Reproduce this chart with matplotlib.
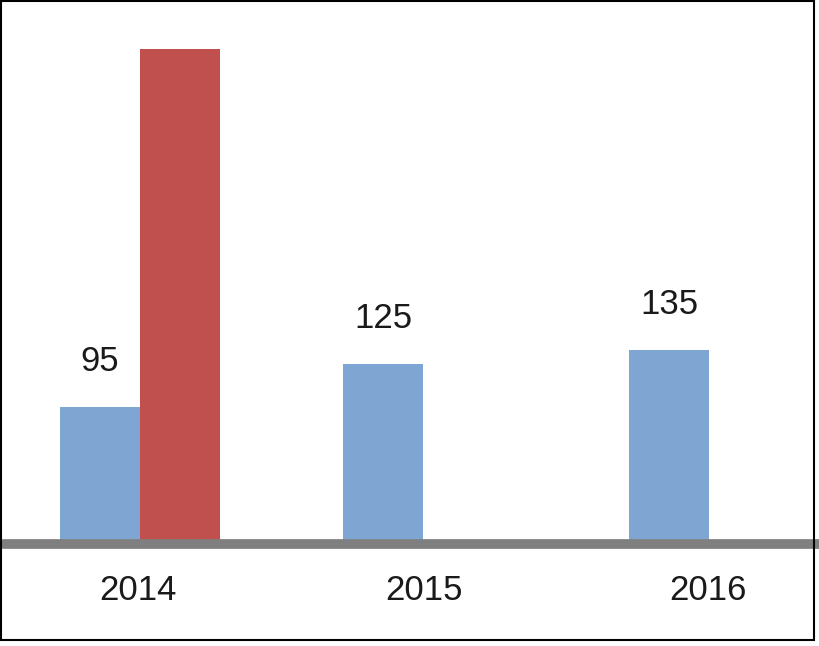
import matplotlib
matplotlib.use("Agg")
import matplotlib.pyplot as plt
from matplotlib.patches import Rectangle

plt.rcParams['font.family'] = ['Liberation Sans', 'DejaVu Sans']

years = ['2014', '2015', '2016']
blue_values = [95, 125, 135]
red_values = [344, None, None]

# layout (pixel units along x)
blue_x = [100, 383, 669]
red_x = [180]
year_label_x = [138, 424, 708]
bar_w = 80

fig = plt.figure(figsize=(8.2, 6.46), dpi=100)
ax = fig.add_axes([0, 102 / 646, 1, 544 / 646])
ax.set_xlim(0, 820)
ax.set_ylim(0, 544 / 1.44)
ax.axis('off')

ax.bar(blue_x, blue_values, width=bar_w, color='#7fa6d2')
ax.bar(red_x, [v for v in red_values if v is not None], width=bar_w, color='#c0504d')

for x, v in zip(blue_x, blue_values):
    ax.text(x, v + 20, str(v), ha='center', va='bottom', fontsize=25, color='#1a1a1a')

ax.axhline(0, color='#7f7f7f', lw=7, clip_on=False)

for x, y in zip(year_label_x, years):
    fig.text(x / 820, 1 - 590 / 646, y, ha='center', va='center', fontsize=25, color='#1a1a1a')

fig.patches.append(Rectangle((1 / 820, 6 / 646), 813 / 820, 639 / 646, transform=fig.transFigure,
                             fill=False, edgecolor='black', lw=1.5))

fig.savefig('out.png', dpi=100)
